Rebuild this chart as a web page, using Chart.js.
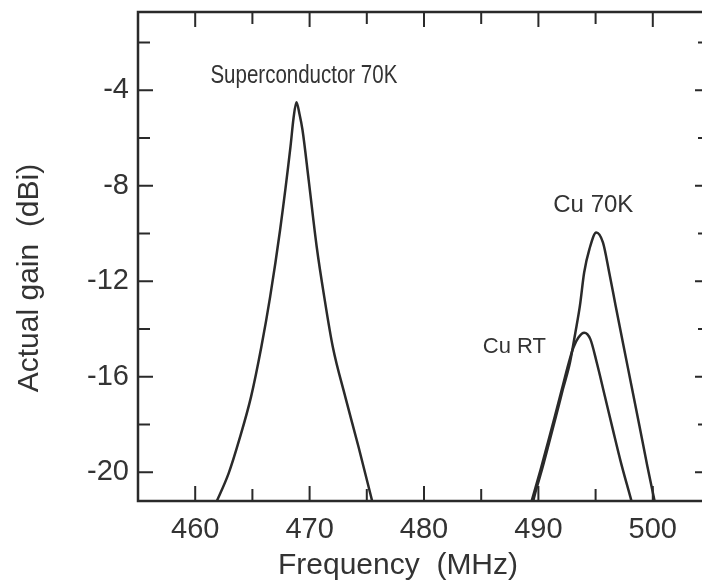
<!DOCTYPE html>
<html>
<head>
<meta charset="utf-8">
<script src="https://cdn.jsdelivr.net/npm/chart.js@4.4.0/dist/chart.umd.min.js"></script>
<style>
    html, body { margin: 0; padding: 0; background: #fff; }
    #wrap { width: 702px; height: 585px; overflow: hidden; }
    #chart { display: block; }
</style>
</head>
<body>
<div id="wrap"><canvas id="chart" width="712" height="585"></canvas></div>
<script>
// values
let scFreq = [461.8, 462.93, 463.84, 464.88, 465.78, 466.55, 467.42, 468.33, 468.6, 468.85, 469.12, 469.38, 469.92, 470.62, 471.28, 472.03, 473.12, 474.28, 475.52];
let scGain = [-21.3, -20.03, -18.65, -16.84, -14.75, -12.65, -9.85, -6.36, -5.15, -4.5, -5.0, -5.66, -7.76, -10.55, -12.65, -14.75, -16.84, -18.94, -21.3];

let cu70Freq = [489.5, 489.73, 490.32, 490.94, 491.55, 492.14, 492.76, 493.23, 493.63, 494.0, 494.46, 495.06, 495.64, 496.19, 496.75, 497.44, 498.14, 498.83, 499.52, 500.2];
let cu70Gain = [-21.3, -20.85, -19.87, -18.75, -17.63, -16.52, -15.4, -14.15, -13.02, -11.63, -10.65, -9.95, -10.37, -11.63, -13.02, -14.7, -16.38, -18.05, -19.73, -21.3];

let cuRtFreq = [489.35, 490.2, 490.83, 491.45, 492.05, 492.66, 493.06, 493.5, 494.01, 494.54, 495.1, 495.8, 496.5, 497.21, 498.05, 498.19];
let cuRtGain = [-21.3, -19.87, -18.75, -17.63, -16.52, -15.4, -14.77, -14.35, -14.15, -14.42, -15.4, -16.79, -18.19, -19.58, -21.05, -21.3];

let xTickValues = [460, 465, 470, 475, 480, 485, 490, 495, 500];
let yTickValues = [-20, -18, -16, -14, -12, -10, -8, -6, -4, -2];
let xLabelValues = [460, 470, 480, 490, 500];
let yLabelValues = [-4, -8, -12, -16, -20];

let curveNames = ["Superconductor 70K", "Cu 70K", "Cu RT"];
let xTitle = "Frequency  (MHz)";
let yTitle = "Actual gain  (dBi)";

const ink = "#2a2a2a";
const textInk = "#333333";

function toPoints(xs, ys) {
    return xs.map((v, i) => ({ x: v, y: ys[i] }));
}

function curve(label, xs, ys) {
    return {
        label: label,
        data: toPoints(xs, ys),
        borderColor: ink,
        borderWidth: 2.5,
        pointRadius: 0,
        fill: false,
        cubicInterpolationMode: "monotone",
    };
}

let frameTicks = {
    id: "frameTicks",
    afterDraw(chart) {
        let ctx = chart.ctx;
        let a = chart.chartArea;
        let x = chart.scales.x;
        let y = chart.scales.y;

        ctx.save();
        ctx.strokeStyle = ink;
        ctx.lineWidth = 2.5;
        ctx.strokeRect(a.left, a.top, a.right - a.left, a.bottom - a.top);

        ctx.lineWidth = 2;
        ctx.beginPath();
        xTickValues.forEach(v => {
            let px = x.getPixelForValue(v);
            let len = v % 10 === 0 ? 15 : 12;
            ctx.moveTo(px, a.bottom); ctx.lineTo(px, a.bottom - len);
            ctx.moveTo(px, a.top); ctx.lineTo(px, a.top + len);
        });
        yTickValues.forEach(v => {
            let py = y.getPixelForValue(v);
            let len = v % 4 === 0 ? 15 : 12;
            ctx.moveTo(a.left, py); ctx.lineTo(a.left + len, py);
            ctx.moveTo(a.right, py); ctx.lineTo(a.right - len, py);
        });
        ctx.stroke();

        // curve names
        ctx.fillStyle = textInk;
        ctx.textAlign = "center";
        ctx.textBaseline = "alphabetic";

        ctx.save();
        ctx.translate(x.getPixelForValue(469.5), y.getPixelForValue(-3.69));
        ctx.scale(0.82, 1);
        ctx.font = "25px 'Liberation Sans'";
        ctx.fillText(curveNames[0], 0, 0);
        ctx.restore();

        ctx.font = "24px 'Liberation Sans'";
        ctx.fillText(curveNames[1], x.getPixelForValue(494.8), y.getPixelForValue(-9.09));
        ctx.font = "22px 'Liberation Sans'";
        ctx.fillText(curveNames[2], x.getPixelForValue(487.9), y.getPixelForValue(-15.0));

        // axis titles
        ctx.font = "30px 'Liberation Sans'";
        ctx.textBaseline = "middle";
        ctx.fillText(xTitle, 398, 566);
        ctx.save();
        ctx.translate(30, 278);
        ctx.rotate(-Math.PI / 2);
        ctx.fillText(yTitle, 0, 0);
        ctx.restore();

        ctx.restore();
    }
};

new Chart(document.getElementById("chart").getContext("2d"), {
    type: "line",
    data: {
        datasets: [
            curve(curveNames[0], scFreq, scGain),
            curve(curveNames[1], cu70Freq, cu70Gain),
            curve(curveNames[2], cuRtFreq, cuRtGain),
        ]
    },
    options: {
        animation: false,
        responsive: false,
        devicePixelRatio: 1,
        layout: { padding: { top: 12, right: 2, left: 0, bottom: 0 } },
        scales: {
            x: {
                type: "linear",
                min: 455,
                max: 505,
                grid: { display: false, drawTicks: false },
                border: { display: false },
                afterFit: scale => {
                    scale.height = 84;
                    scale.paddingLeft = 0;
                    scale.paddingRight = 0;
                },
                afterBuildTicks: scale => { scale.ticks = xLabelValues.map(v => ({ value: v })); },
                ticks: {
                    padding: 12,
                    color: textInk,
                    font: { family: "Liberation Sans", size: 29 },
                    callback: v => String(v),
                }
            },
            y: {
                type: "linear",
                min: -21.2,
                max: -0.72,
                grid: { display: false, drawTicks: false },
                border: { display: false },
                afterFit: scale => {
                    scale.width = 138;
                    scale.paddingTop = 0;
                    scale.paddingBottom = 0;
                },
                afterBuildTicks: scale => { scale.ticks = yLabelValues.map(v => ({ value: v })); },
                ticks: {
                    padding: 9,
                    color: textInk,
                    font: { family: "Liberation Sans", size: 29 },
                    callback: v => String(v),
                }
            }
        },
        plugins: {
            legend: { display: false },
            tooltip: { enabled: false }
        }
    },
    plugins: [frameTicks]
});
</script>
</body>
</html>
